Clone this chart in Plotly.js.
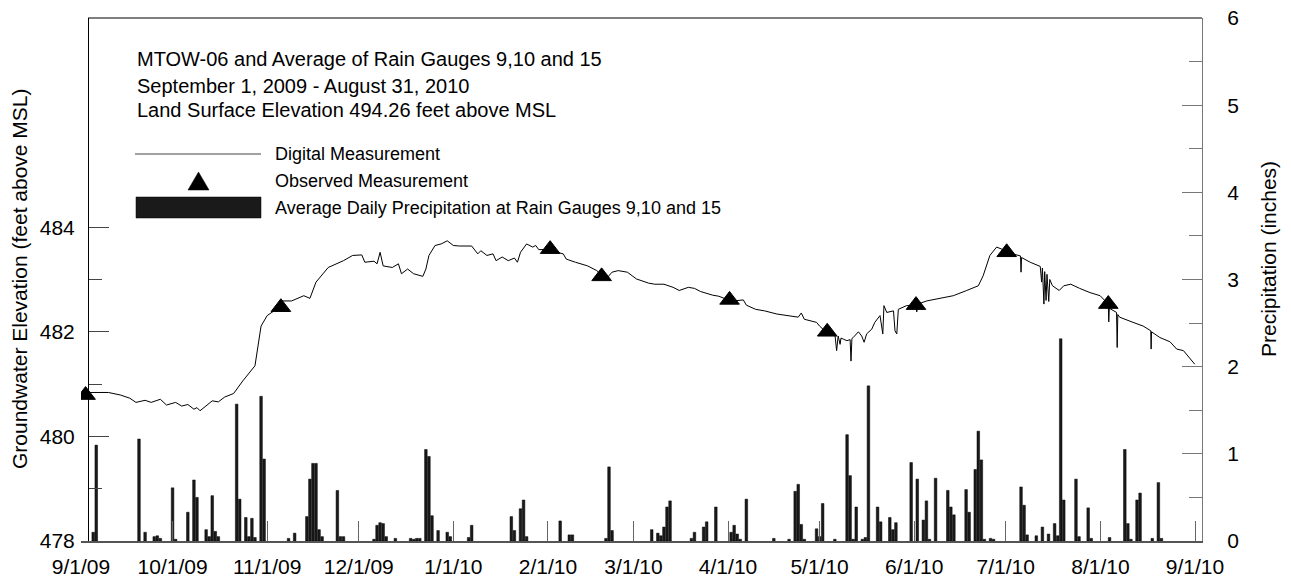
<!DOCTYPE html>
<html><head><meta charset="utf-8">
<script src="https://cdn.plot.ly/plotly-3.0.1.min.js"></script>
<style>html,body{margin:0;padding:0;background:#fff}#chart{width:1291px;height:581px}</style>
</head><body><div id="chart"></div>
<script>
// ---------- DATA ----------
const gwTime = ['2009-09-03 06:00','2009-09-07','2009-09-10','2009-09-14','2009-09-17','2009-09-19','2009-09-22','2009-09-24','2009-09-27','2009-09-29',
'2009-10-02','2009-10-04','2009-10-06','2009-10-08','2009-10-09','2009-10-10','2009-10-12','2009-10-14','2009-10-16','2009-10-18','2009-10-21','2009-10-24','2009-10-28','2009-10-29','2009-10-30',
'2009-11-01','2009-11-04','2009-11-06','2009-11-09','2009-11-13','2009-11-15','2009-11-17','2009-11-21','2009-11-26','2009-11-29',
'2009-12-02','2009-12-03','2009-12-06','2009-12-07','2009-12-08','2009-12-09','2009-12-12','2009-12-14','2009-12-15','2009-12-17','2009-12-19','2009-12-22','2009-12-23','2009-12-24','2009-12-26','2009-12-28','2009-12-30',
'2010-01-01','2010-01-03','2010-01-07','2010-01-09','2010-01-10','2010-01-12','2010-01-14','2010-01-15','2010-01-17','2010-01-19','2010-01-21','2010-01-22','2010-01-23','2010-01-25','2010-01-27','2010-01-28','2010-01-29',
'2010-02-02','2010-02-04','2010-02-06','2010-02-07','2010-02-10','2010-02-14','2010-02-17','2010-02-19','2010-02-20','2010-02-22','2010-02-24','2010-02-27',
'2010-03-02','2010-03-06','2010-03-08','2010-03-11','2010-03-14','2010-03-16','2010-03-19','2010-03-21','2010-03-23','2010-03-27','2010-03-29',
'2010-04-01','2010-04-03','2010-04-06','2010-04-07','2010-04-10','2010-04-13','2010-04-17','2010-04-21','2010-04-24','2010-04-25','2010-04-26','2010-04-30',
'2010-05-01','2010-05-03','2010-05-06','2010-05-06 14:00','2010-05-07 02:00','2010-05-07 17:00','2010-05-08','2010-05-08 19:00','2010-05-09 22:00','2010-05-11','2010-05-11 07:00','2010-05-11 14:00','2010-05-12','2010-05-13 17:00','2010-05-14 19:00','2010-05-15 14:00','2010-05-16 10:00','2010-05-18 02:00','2010-05-19 02:00','2010-05-20 19:00','2010-05-21 17:00','2010-05-22 02:00','2010-05-23','2010-05-25 05:00','2010-05-25 17:00','2010-05-26 07:00','2010-05-26 19:00','2010-05-29 12:00',
'2010-06-01 14:00','2010-06-01 20:00','2010-06-02 04:00','2010-06-05 02:00','2010-06-09 12:00','2010-06-13 19:00','2010-06-18 05:00','2010-06-22','2010-06-23 14:00','2010-06-25 19:00','2010-06-28','2010-06-29 17:00',
'2010-07-01 07:00','2010-07-04 14:00','2010-07-05 20:00','2010-07-06','2010-07-06 04:00','2010-07-09','2010-07-12 07:00','2010-07-12 18:00','2010-07-13','2010-07-13 12:00','2010-07-13 18:00','2010-07-14 05:00','2010-07-14 12:00','2010-07-15 02:00','2010-07-15 10:00','2010-07-16 07:00','2010-07-18 12:00','2010-07-20','2010-07-22 07:00','2010-07-25 05:00','2010-07-28 14:00','2010-07-31 22:00',
'2010-08-03 14:00','2010-08-03 18:00','2010-08-03 22:00','2010-08-06 07:00','2010-08-06 12:00','2010-08-06 17:00','2010-08-07 07:00','2010-08-11 17:00','2010-08-15','2010-08-17 12:00','2010-08-17 15:00','2010-08-17 18:00','2010-08-20 12:00','2010-08-23 19:00','2010-08-26','2010-08-28 05:00','2010-08-31 22:00'];
const gwLevel = [480.84,480.84,480.84,480.79,480.73,480.65,480.69,480.65,480.71,480.60,
480.65,480.58,480.61,480.52,480.55,480.49,480.58,480.68,480.66,480.75,480.82,481.06,481.35,481.73,482.11,
482.31,482.43,482.59,482.59,482.69,482.64,482.95,483.23,483.36,483.46,
483.47,483.33,483.35,483.30,483.52,483.26,483.23,483.30,483.11,483.20,483.11,483.06,483.20,483.46,483.65,483.68,483.74,
483.65,483.64,483.64,483.49,483.55,483.46,483.49,483.36,483.43,483.36,483.41,483.33,483.52,483.68,483.62,483.65,483.57,
483.58,483.52,483.49,483.39,483.33,483.26,483.17,483.06,483.01,483.14,483.17,483.14,
483.01,482.93,482.91,482.91,482.85,482.79,482.85,482.83,482.77,482.70,482.68,
482.61,482.59,482.61,482.51,482.43,482.40,482.34,482.31,482.28,482.36,482.24,482.18,
482.11,482.00,481.96,481.64,481.92,481.76,481.88,481.86,481.83,481.85,481.44,481.87,481.89,482.00,481.92,481.80,481.96,482.05,482.18,482.31,481.96,482.50,482.37,482.40,482.02,481.96,482.43,482.50,
482.51,482.38,482.53,482.59,482.64,482.69,482.79,482.88,483.07,483.46,483.62,483.58,
483.52,483.47,483.45,483.14,483.42,483.33,483.25,482.95,483.22,482.53,483.15,482.60,483.10,482.58,483.00,482.88,482.79,482.88,482.91,482.83,482.75,482.69,
482.53,482.19,482.45,482.37,481.70,482.33,482.28,482.18,482.11,482.02,481.67,482.00,481.89,481.81,481.67,481.64,481.38];

const obsTime = ['2009-09-02 12:00','2009-11-05 12:00','2010-02-01 17:00','2010-02-18 14:00','2010-04-01 12:00','2010-05-03 12:00','2010-06-01 14:00','2010-07-01 07:00','2010-08-03 14:00'];
const obsLevel = [480.79,482.47,483.58,483.06,482.61,482.00,482.51,483.52,482.53];

const rainDate = ['2009-09-05','2009-09-06','2009-09-20','2009-09-22','2009-09-25','2009-09-26','2009-09-27',
'2009-10-01','2009-10-02','2009-10-06','2009-10-08','2009-10-09','2009-10-12','2009-10-13','2009-10-14','2009-10-15','2009-10-16','2009-10-22','2009-10-23','2009-10-25','2009-10-26','2009-10-27','2009-10-28','2009-10-30','2009-10-31',
'2009-11-08','2009-11-10','2009-11-14','2009-11-15','2009-11-16','2009-11-17','2009-11-18','2009-11-19','2009-11-24','2009-11-25','2009-11-26',
'2009-12-06','2009-12-07','2009-12-08','2009-12-09','2009-12-10','2009-12-13','2009-12-18','2009-12-19','2009-12-20','2009-12-21','2009-12-23','2009-12-24','2009-12-25','2009-12-27','2009-12-30','2009-12-31',
'2010-01-06','2010-01-07','2010-01-20','2010-01-21','2010-01-23','2010-01-24','2010-01-25',
'2010-02-05','2010-02-08','2010-02-09','2010-02-20','2010-02-21','2010-02-22',
'2010-03-07','2010-03-09','2010-03-10','2010-03-11','2010-03-12','2010-03-13','2010-03-20','2010-03-21','2010-03-24','2010-03-25','2010-03-28',
'2010-04-02','2010-04-03','2010-04-04','2010-04-05','2010-04-07','2010-04-16','2010-04-21','2010-04-23','2010-04-24','2010-04-25','2010-04-26','2010-04-30',
'2010-05-01','2010-05-02','2010-05-06','2010-05-10','2010-05-11','2010-05-12','2010-05-13','2010-05-15','2010-05-16','2010-05-17','2010-05-20','2010-05-21','2010-05-24','2010-05-25','2010-05-26','2010-05-31',
'2010-06-02','2010-06-04','2010-06-05','2010-06-06','2010-06-08','2010-06-12','2010-06-13','2010-06-14','2010-06-18','2010-06-19','2010-06-21','2010-06-22','2010-06-23','2010-06-24','2010-06-26','2010-06-27',
'2010-07-06','2010-07-07','2010-07-08','2010-07-11','2010-07-13','2010-07-15','2010-07-17','2010-07-18','2010-07-19','2010-07-20','2010-07-24','2010-07-25','2010-07-28','2010-07-29',
'2010-08-04','2010-08-09','2010-08-10','2010-08-11','2010-08-13','2010-08-14','2010-08-18','2010-08-20','2010-08-21'];
const rainInches = [0.10,1.10,1.17,0.10,0.05,0.06,0.03,
0.61,0.02,0.33,0.70,0.50,0.13,0.05,0.52,0.11,0.05,1.57,0.48,0.27,0.05,0.26,0.04,1.66,0.94,
0.03,0.09,0.28,0.71,0.89,0.89,0.13,0.05,0.58,0.05,0.05,
0.02,0.18,0.21,0.20,0.05,0.03,0.03,0.02,0.03,0.03,1.05,0.97,0.29,0.12,0.10,0.05,
0.04,0.18,0.28,0.12,0.37,0.47,0.05,
0.23,0.07,0.07,0.03,0.85,0.12,
0.13,0.09,0.06,0.16,0.39,0.46,0.03,0.10,0.16,0.22,0.39,
0.10,0.18,0.08,0.02,0.48,0.03,0.02,0.57,0.65,0.19,0.02,0.14,
0.05,0.43,0.02,1.22,0.75,0.02,0.39,0.02,0.04,1.78,0.39,0.22,0.27,0.13,0.21,0.90,
0.71,0.24,0.46,0.02,0.72,0.58,0.39,0.30,0.59,0.33,0.82,1.26,0.93,0.02,0.03,0.02,
0.62,0.41,0.07,0.06,0.16,0.08,0.20,0.06,2.32,0.47,0.71,0.05,0.38,0.03,
0.04,1.05,0.20,0.02,0.47,0.55,0.03,0.67,0.03];

const tickDates = ['2009-09-01','2009-10-01','2009-11-01','2009-12-01','2010-01-01','2010-02-01','2010-03-01','2010-04-01','2010-05-01','2010-06-01','2010-07-01','2010-08-01','2010-09-01'];
const tickLabels = ['9/1/09','10/1/09','11/1/09','12/1/09','1/1/10','2/1/10','3/1/10','4/1/10','5/1/10','6/1/10','7/1/10','8/1/10','9/1/10'];
const leftTicks = [478,480,482,484];
const leftMinor = [479,481,483];

const titleLines = ['MTOW-06 and Average of Rain Gauges 9,10 and 15','September 1, 2009 - August 31, 2010','Land Surface Elevation 494.26 feet above MSL'];
const legendLabels = ['Digital Measurement','Observed Measurement','Average Daily Precipitation at Rain Gauges 9,10 and 15'];

// ---------- LAYOUT HELPERS ----------
const L=81, R=1202, T=18, B=541, W=R-L, H=B-T;
const px = v => (v-L)/W;
const py = v => (B-v)/H;
const FONT = 'Liberation Sans, Arial, sans-serif';

const traces = [
  {type:'bar', x:rainDate, y:rainInches, yaxis:'y2', width:0.85*86400000,
   marker:{color:'#1a1a1a', line:{color:'#000', width:0.5}}, hoverinfo:'x+y'},
  {type:'scatter', mode:'lines', x:gwTime, y:gwLevel, yaxis:'y',
   line:{color:'#000', width:1}},
  {type:'scatter', mode:'markers', x:obsTime, y:obsLevel, yaxis:'y',
   marker:{symbol:'triangle-up', size:17, color:'#000', line:{color:'#000', width:1}}}
];

const annotations = [];
const titleY = [59, 86, 110];
titleLines.forEach((t,i)=>annotations.push({xref:'paper', yref:'paper', x:px(135), y:py(titleY[i]), xanchor:'left', yanchor:'middle', text:t, showarrow:false, font:{family:FONT, size:20, color:'#000'}}));
const legY = [154, 181, 208];
legendLabels.forEach((t,i)=>annotations.push({xref:'paper', yref:'paper', x:px(273), y:py(legY[i]), xanchor:'left', yanchor:'middle', text:t, showarrow:false, font:{family:FONT, size:18, color:'#000'}}));
annotations.push({xref:'paper', yref:'paper', x:px(19), y:py(279), xanchor:'center', yanchor:'middle', textangle:-90, text:'Groundwater Elevation (feet above MSL)', showarrow:false, font:{family:FONT, size:21, color:'#000'}});
annotations.push({xref:'paper', yref:'paper', x:px(1268), y:py(259), xanchor:'center', yanchor:'middle', textangle:-90, text:'Precipitation (inches)', showarrow:false, font:{family:FONT, size:21, color:'#000'}});

const shapes = [
  {type:'line', xref:'paper', yref:'paper', x0:px(88), x1:1, y0:1, y1:1, line:{color:'#000', width:1}},
  {type:'line', xref:'paper', yref:'paper', x0:px(135), x1:px(261), y0:py(154), y1:py(154), line:{color:'#444', width:1}},
  {type:'path', xref:'paper', yref:'paper', path:`M ${px(188)},${py(190)} L ${px(209)},${py(190)} L ${px(198.5)},${py(172)} Z`, fillcolor:'#000', line:{color:'#000', width:0.5}},
  {type:'rect', xref:'paper', yref:'paper', x0:px(136), x1:px(261), y0:py(218), y1:py(197), fillcolor:'#1a1a1a', line:{color:'#000', width:0.5}}
];

const layout = {
  width:1291, height:581, margin:{l:L, r:1291-R, t:T, b:581-B},
  paper_bgcolor:'#fff', plot_bgcolor:'#fff', showlegend:false,
  font:{family:FONT, color:'#000'},
  bargap:0,
  xaxis:{type:'date', range:['2009-09-01','2010-09-03 07:00'], tickmode:'array', tickvals:tickDates, ticktext:tickLabels,
    ticks:'inside', ticklen:20, tickwidth:1, tickcolor:'#666', showline:true, linecolor:'#555', linewidth:2,
    showgrid:false, zeroline:false, tickfont:{family:FONT, size:21, color:'#000'}, ticklabelstandoff:6},
  yaxis:{range:[478,488], anchor:'free', position:px(88), side:'left', tickmode:'array', tickvals:leftTicks, ticktext:leftTicks.map(String),
    ticks:'inside', ticklen:20, tickwidth:1, tickcolor:'#444',
    minor:{tickmode:'array', tickvals:leftMinor, ticks:'inside', ticklen:13, tickwidth:1, tickcolor:'#444'},
    showline:true, linecolor:'#000', linewidth:1, showgrid:false, zeroline:false,
    tickfont:{family:FONT, size:21, color:'#000'}, ticklabelstandoff:9},
  yaxis2:{range:[0,6], overlaying:'y', side:'right', anchor:'x', tick0:0, dtick:1,
    ticks:'inside', ticklen:20, tickwidth:1, tickcolor:'#777',
    minor:{dtick:0.5, ticks:'inside', ticklen:13, tickwidth:1, tickcolor:'#777'},
    showline:true, linecolor:'#777', linewidth:1, showgrid:false, zeroline:false,
    tickfont:{family:FONT, size:21, color:'#000'}, ticklabelstandoff:20},
  annotations:annotations, shapes:shapes
};

Plotly.newPlot('chart', traces, layout, {staticPlot:true, displayModeBar:false});
</script></body></html>
